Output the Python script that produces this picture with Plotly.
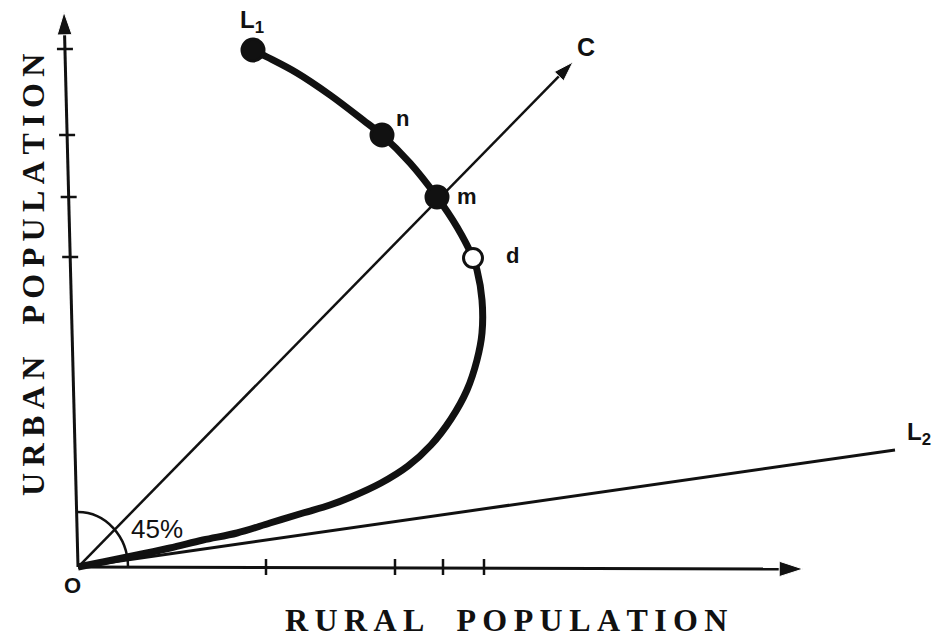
import plotly.graph_objects as go

# ---- data (units: rural / urban population, arbitrary) ----
curve_rural = [17.5, 18.9, 21.9, 25.2, 28.5, 30.4, 33.2, 35.9, 37.9, 39.5, 39.9, 40.4, 40.4, 39.9,
               38.9, 37.3, 35.3, 33.0, 30.3, 27.3, 25.2, 22.5, 19.2, 15.9, 12.5, 9.2, 5.9, 2.5, 0.5, 0.0]
curve_urban = [51.7, 51.0, 49.4, 47.2, 44.7, 43.2, 40.4, 37.0, 34.0, 30.9, 29.7, 26.7, 23.4, 20.7,
               17.7, 14.8, 12.2, 10.1, 8.4, 7.0, 6.2, 5.4, 4.4, 3.4, 2.7, 1.9, 1.2, 0.5, 0.1, 0.0]

point_names = ["L1", "n", "m", "d"]
point_rural = [17.5, 30.4, 35.9, 39.5]
point_urban = [51.7, 43.2, 37.0, 30.9]
point_filled = [True, True, True, False]

x_ticks = [18.8, 31.7, 36.5, 40.6]
y_ticks = [51.8, 43.2, 37.0, 31.0]

line_c_end = [49.5, 50.5]     # 45 degree line
line_l2_end = [81.7, 11.7]    # L2 line
x_axis_end = [72.5, -0.2]
y_axis_end = [-1.4, 55.5]

INK = "#111111"
fig = go.Figure()

def arrow_line(end, width, head):
    fig.add_trace(go.Scatter(x=[0, end[0]], y=[0, end[1]], mode="lines+markers",
                             line=dict(color=INK, width=width),
                             marker=dict(symbol="arrow", size=[0, head], angleref="previous",
                                         color=INK, opacity=1),
                             hoverinfo="skip"))

# axes
arrow_line(x_axis_end, 3, 25)
arrow_line(y_axis_end, 3, 24)

# ticks
tk = 0.8
for xv in x_ticks:
    fig.add_trace(go.Scatter(x=[xv, xv], y=[-tk, tk], mode="lines",
                             line=dict(color=INK, width=2.5), hoverinfo="skip"))
for yv in y_ticks:
    xa = y_axis_end[0] * yv / y_axis_end[1]
    fig.add_trace(go.Scatter(x=[xa - tk, xa + tk], y=[yv, yv], mode="lines",
                             line=dict(color=INK, width=2.5), hoverinfo="skip"))

# 45 degree line C
arrow_line(line_c_end, 2.5, 21)
# L2 line
fig.add_trace(go.Scatter(x=[0, line_l2_end[0]], y=[0, line_l2_end[1]], mode="lines",
                         line=dict(color=INK, width=3), hoverinfo="skip"))

# curve
fig.add_trace(go.Scatter(x=curve_rural, y=curve_urban, mode="lines",
                         line=dict(color=INK, width=7, shape="spline", smoothing=1.0),
                         hoverinfo="skip"))

# points
fig.add_trace(go.Scatter(
    x=point_rural, y=point_urban, mode="markers",
    marker=dict(size=[22 if f else 19 for f in point_filled],
                color=[INK if f else "white" for f in point_filled],
                opacity=1,
                line=dict(color=INK, width=3)),
    hoverinfo="skip"))

# angle arc
fig.add_shape(type="path", xref="x", yref="y",
              path="M 0,5.5 C 2.76,5.5 5.0,3.04 5.0,0",
              line=dict(color=INK, width=2.5))

lab_font = dict(family="Liberation Sans", color=INK)

def label(text, x, y, size, xanchor="center", yanchor="middle"):
    fig.add_annotation(x=x, y=y, xref="x", yref="y", text=text, showarrow=False,
                       xanchor=xanchor, yanchor=yanchor,
                       font=dict(size=size, **lab_font))

label("<b>L<sub>1</sub></b>", 16.0, 54.6, 24, xanchor="left")
label("<b>n</b>", 32.4, 44.9, 22)
label("<b>m</b>", 38.9, 37.1, 22)
label("<b>d</b>", 43.4, 31.2, 22)
label("<b>C</b>", 50.8, 52.0, 25)
label("<b>L<sub>2</sub></b>", 82.7, 13.4, 24, xanchor="left")
label("<b>O</b>", -0.6, -1.8, 22)
label("45%", 7.9, 3.8, 26)

def spaced(s):
    words = s.split(" ")
    return "\u2003".join("\u2009".join(w) for w in words)

title_font = dict(family="Liberation Serif", size=32, color=INK)
fig.add_annotation(x=42.8, y=-5.3, xref="x", yref="y", text="<b>" + spaced("RURAL POPULATION") + "</b>",
                   showarrow=False, font=title_font)
fig.add_annotation(x=-4.5, y=29.2, xref="x", yref="y", text="<b>" + spaced("URBAN POPULATION") + "</b>",
                   showarrow=False, textangle=-90, font=title_font)

fig.update_layout(
    width=944, height=637, autosize=False,
    margin=dict(l=0, r=0, t=0, b=0),
    paper_bgcolor="white", plot_bgcolor="white",
    showlegend=False,
    xaxis=dict(range=[-7.8, 86.6], visible=False, fixedrange=True),
    yaxis=dict(range=[-7.0, 56.7], visible=False, fixedrange=True),
)

fig.write_html("out.html", config={"displayModeBar": False},
               post_script="document.body.style.margin='0px';")
